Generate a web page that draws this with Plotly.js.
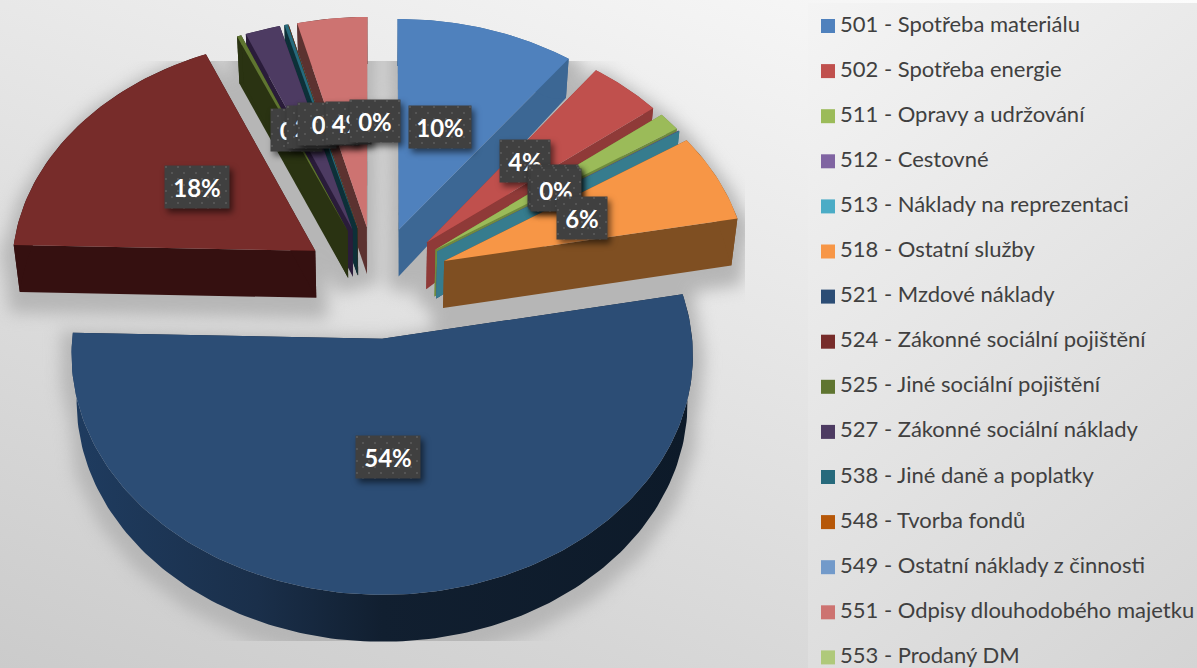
<!DOCTYPE html>
<html><head><meta charset="utf-8">
<script src="https://cdn.plot.ly/plotly-3.0.1.min.js"></script>
<style>
html,body{margin:0;padding:0;width:1197px;height:668px;overflow:hidden;background:linear-gradient(20.8deg,#cbcbcb 0%,#fcfcfc 100%);}
#panel{position:absolute;left:808px;top:3px;width:389px;height:665px;background:linear-gradient(322deg,#d4d4d4 0%,#f4f4f4 100%);}
#chart{position:absolute;left:0;top:0;width:1197px;height:668px;}
.subplot.xy .scatterlayer{filter:blur(8px);}
.annotation rect.bg{filter:drop-shadow(3px 4px 3px rgba(0,0,0,.55));}
</style></head><body>
<div id="panel"></div><div id="chart"></div>
<script>
// ---- data ----
const categories=["501 - Spotřeba materiálu","502 - Spotřeba energie","511 - Opravy a udržování","512 - Cestovné","513 - Náklady na reprezentaci","518 - Ostatní služby","521 - Mzdové náklady","524 - Zákonné sociální pojištění","525 - Jiné sociální pojištění","527 - Zákonné sociální náklady","538 - Jiné daně a poplatky","548 - Tvorba fondů","549 - Ostatní náklady z činnosti","551 - Odpisy dlouhodobého majetku","553 - Prodaný DM"];
const values=[10.2,4.2,1.3,0.03,0.03,6.2,53.4,18.1,0.25,2.0,0.2,0.01,0.01,4.0,0];
const colors=["#4f81bd","#c0504d","#9bbb59","#8064a2","#4bacc6","#f79646","#2c4d75","#772c2a","#5f7530","#4d3b62","#276a7c","#b65708","#729aca","#cd7371","#afc97a"];
const wallColors=["#3c6794","#8f3a38","#6f8b3e","#5d4a78","#367c8e","#7f4f22","#13233a","#351010","#2a3312","#2a1c3a","#0d3038","#6b3305","#4d6f97","#5c3230","#7d9550"];
const labelTexts=["10%","4%","1%","0%","0%","6%","54%","18%","0%","2%","0%","4%","0%"];

// ---- pie geometry: projection of the exploded 3D pie ----
const geo={cx:376,cy:282,R:305,explode:74,tilt:.758,persp:.000217,depth:47};
const legendLayout={markerX:828,textX:840,firstY:26,stepY:45.1};
const labelBoxes=[[440,127,62],[525,161,50],[553,186,50],[554,188,50],[556,189.5,50],[582,218,50],[388,457,64],[197,187,64],[296.5,130,51],[311.5,127,49],[328.5,124,61],[348.5,123,45],[375,121,50]];

function project(X,Y){const s=1/(1+geo.persp*Y);return [geo.cx+X*s,geo.cy-Y*geo.tilt*s];}
function clamp(v){return Math.max(0,Math.min(1,v));}
function drop(X,Y){ // depth of the wall at a ground point
  const d=geo.depth-34*clamp((Y-90)/140)*clamp((X-190)/70);
  const p=project(X,Y);
  return [geo.cx+(p[0]-geo.cx)*(1-.0167*d/geo.depth),p[1]+d];
}
const total=values.reduce((a,b)=>a+b,0);
let cum=0;
const slices=values.map((v,i)=>{
  const a0=cum/total*2*Math.PI; cum+=v; const a1=cum/total*2*Math.PI; const b=(a0+a1)/2;
  const ox=geo.explode*Math.sin(b), oy=geo.explode*Math.cos(b);
  const n=Math.max(2,Math.ceil((a1-a0)/0.02));
  const arc=[];
  for(let k=0;k<=n;k++){const a=a0+(a1-a0)*k/n;arc.push([ox+geo.R*Math.sin(a),oy+geo.R*Math.cos(a)]);}
  return {i,v,apex:[ox,oy],arc};
});
function poly(pts,fn){return pts.map(p=>fn(p[0],p[1]));}
function closed(pts,dy){const d=dy||0;return {x:[...pts.map(p=>p[0]),pts[0][0]],y:[...pts.map(p=>p[1]+d),pts[0][1]+d]};}
function topPts(s){return poly([s.apex,...s.arc],project);}
function wallPolys(s){
  const A=s.apex,F=s.arc[0],L=s.arc[s.arc.length-1];
  return [
    [project(...A),project(...F),drop(...F),drop(...A)],
    [project(...A),project(...L),drop(...L),drop(...A)],
    [...poly(s.arc,project),...poly(s.arc.slice().reverse(),drop)]
  ];
}
const base={type:'scatter',mode:'lines',fill:'toself',line:{width:0},hoverinfo:'skip',showlegend:false,xaxis:'x2',yaxis:'y2'};
const traces=[];
// floor shadow (clipped by its own plot area)
const shadowStyle={type:'scatter',mode:'lines',fill:'toself',fillcolor:'#b6b6b6',line:{width:22,color:'#b6b6b6'},hoverinfo:'skip',showlegend:false,xaxis:'x',yaxis:'y'};
slices.filter(s=>s.v>0).forEach(s=>{
  traces.push(Object.assign({},shadowStyle,closed(topPts(s),10)));
  wallPolys(s).forEach(w=>traces.push(Object.assign({},shadowStyle,closed(w,10))));
});
// painter's order: far-left slices, then right side clockwise, near slice last
const order=[14,13,12,11,10,9,8,7,0,1,2,3,4,5,6];
order.forEach(i=>{
  const s=slices[i];
  if(s.v<=0) return;
  wallPolys(s).forEach((w,k)=>{
    const wall=Object.assign({},base,closed(w),{name:categories[i]+' bok',fillcolor:wallColors[i]});
    if(i===6&&k===2){wall.fillgradient={type:'horizontal',colorscale:[[0,'#1f3c60'],[.3,'#1a2f4a'],[.5,'#111f30'],[1,'#0d1a29']]};}
    traces.push(wall);
  });
  traces.push(Object.assign({},base,closed(topPts(s)),{name:categories[i],fillcolor:colors[i]}));
});
// legend
const legendY=categories.map((c,i)=>legendLayout.firstY+legendLayout.stepY*i);
traces.push({type:'scatter',mode:'markers',xaxis:'x2',yaxis:'y2',hoverinfo:'skip',showlegend:false,
  x:categories.map(()=>legendLayout.markerX),y:legendY,
  marker:{symbol:'square',size:14,color:colors,line:{width:0}}});
traces.push({type:'scatter',mode:'text',xaxis:'x2',yaxis:'y2',hoverinfo:'skip',showlegend:false,
  x:categories.map(()=>legendLayout.textX),y:legendY,
  text:categories,textposition:'middle right',cliponaxis:false,
  textfont:{family:'Lato, sans-serif',size:22,color:'#404040'}});

const annotations=labelTexts.map((t,i)=>({xref:'x2',yref:'y2',x:labelBoxes[i][0],y:labelBoxes[i][1],text:'<b>'+t+'</b>',showarrow:false,
  xanchor:'center',yanchor:'middle',width:labelBoxes[i][2],height:42,borderpad:0,bgcolor:'#404040',align:'center',valign:'middle',
  font:{family:'Lato, sans-serif',size:24,color:'#ffffff'}}));
const off={visible:false,fixedrange:true};
const layout={width:1197,height:668,margin:{l:0,r:0,t:0,b:0},paper_bgcolor:'rgba(0,0,0,0)',plot_bgcolor:'rgba(0,0,0,0)',showlegend:false,
  xaxis:Object.assign({domain:[0,745/1197],range:[0,745],anchor:'y'},off),
  yaxis:Object.assign({domain:[27/668,607/668],range:[641,61],anchor:'x'},off),
  xaxis2:Object.assign({domain:[0,1],range:[0,1197],anchor:'y2'},off),
  yaxis2:Object.assign({domain:[0,1],range:[668,0],anchor:'x2'},off),
  annotations};
Plotly.newPlot('chart',traces,layout,{displayModeBar:false,staticPlot:true}).then(()=>{
  const ns='http://www.w3.org/2000/svg';
  const defs=document.createElementNS(ns,'defs');
  defs.innerHTML='<pattern id="dots" width="12" height="12" patternUnits="userSpaceOnUse"><rect width="12" height="12" fill="#404040"/><circle cx="2" cy="2" r="1" fill="#5c5c5c"/><circle cx="8" cy="8" r="1" fill="#5c5c5c"/></pattern>';
  document.querySelectorAll('#chart svg.main-svg').forEach(sv=>{sv.insertBefore(defs.cloneNode(true),sv.firstChild);});
  document.querySelectorAll('.annotation rect.bg').forEach(r=>{r.style.fill='url(#dots)';});
});
</script></body></html>
